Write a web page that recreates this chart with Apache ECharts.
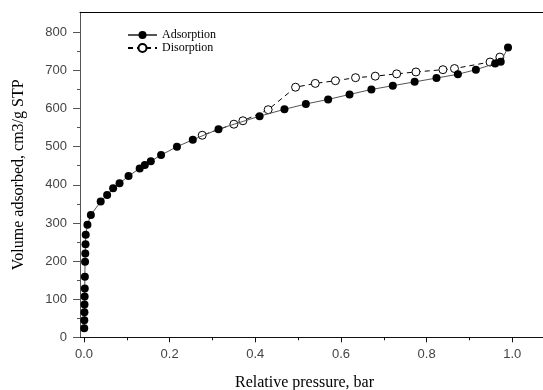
<!DOCTYPE html>
<html>
<head>
<meta charset="utf-8">
<script src="https://cdn.jsdelivr.net/npm/echarts@6/dist/echarts.min.js"></script>
<style>
html,body{margin:0;padding:0;background:#fff;}
#chart{width:543px;height:390px;}
</style>
</head>
<body>
<div id="chart"></div>
<script>
// ---- data ----
const adsX = [0.0005,0.0007,0.001,0.0012,0.0015,0.0018,0.002,0.0025,0.003,0.0035,0.004,0.008,0.016,0.039,0.054,0.068,0.083,0.104,0.130,0.142,0.156,0.180,0.217,0.254,0.314,0.410,0.468,0.518,0.570,0.620,0.671,0.721,0.772,0.823,0.873,0.915,0.960,0.973,0.990];
const adsY = [24,45,66,86,107,128,159,198,220,244,269,295,321,356,373,391,404,423,443,452,462,478,500,518,546,580,598,612,624,637,650,660,670,680,690,702,718,723,760];
const desX = [0.971,0.948,0.865,0.838,0.775,0.730,0.680,0.634,0.587,0.540,0.494,0.430,0.371,0.350,0.276];
const desY = [735,722,705,702,696,691,685,681,673,666,656,597,568,559,530];
const seriesNames = ['Adsorption','Disorption'];
const xTicks = [0, 0.2, 0.4, 0.6, 0.8, 1.0];
const xMinorTicks = [0.1, 0.3, 0.5, 0.7, 0.9];
const yTicks = [0, 100, 200, 300, 400, 500, 600, 700, 800];
const yMinorTicks = [50, 150, 250, 350, 450, 550, 650, 750];
const xTitle = 'Relative pressure, bar';
const yTitle = 'Volume adsorbed, cm3/g STP';

const X_MIN = -0.00934, X_MAX = 1.0717, Y_MIN = 0, Y_MAX = 852.5;

const pair = (xs, ys) => xs.map((x, i) => [x, ys[i]]);
const serif = '"Liberation Serif", "Times New Roman", serif';
const sans = '"Liberation Sans", Arial, sans-serif';

const chart = echarts.init(document.getElementById('chart'), null, {renderer: 'canvas'});
chart.setOption({
  animation: false,
  backgroundColor: '#fff',
  grid: {left: 80, top: 12.3, right: 0, bottom: 52.7, containLabel: false, outerBoundsMode: 'none'},
  legend: {
    data: seriesNames,
    orient: 'vertical',
    left: 122, top: 24,
    itemWidth: 29, itemHeight: 10, itemGap: 1,
    textStyle: {fontFamily: serif, fontSize: 12, color: '#000'}
  },
  xAxis: [
    {
      type: 'value', position: 'bottom', min: X_MIN, max: X_MAX,
      name: xTitle, nameLocation: 'middle', nameGap: 37,
      nameTextStyle: {fontFamily: serif, fontSize: 16, color: '#000', padding: [0, 14, 0, 0]},
      axisLine: {show: true, onZero: false, lineStyle: {color: '#111', width: 1}},
      axisTick: {show: true, inside: false, length: 5, customValues: xTicks, lineStyle: {color: '#111'}},
      axisLabel: {show: true, margin: 11, customValues: xTicks, fontFamily: sans, fontSize: 13, color: '#444',
        formatter: v => v.toFixed(1)},
      splitLine: {show: false}
    },
    {
      type: 'value', position: 'bottom', min: X_MIN, max: X_MAX,
      axisLine: {show: false, onZero: false},
      axisTick: {show: true, inside: false, length: 3, customValues: xMinorTicks, lineStyle: {color: '#111'}},
      axisLabel: {show: false},
      splitLine: {show: false}
    },
    {
      type: 'value', position: 'top', min: X_MIN, max: X_MAX,
      axisLine: {show: true, onZero: false, lineStyle: {color: '#000', width: 1}},
      axisTick: {show: false}, axisLabel: {show: false}, splitLine: {show: false}
    }
  ],
  yAxis: [
    {
      type: 'value', position: 'left', min: Y_MIN, max: Y_MAX,
      name: yTitle, nameLocation: 'middle', nameGap: 53,
      nameTextStyle: {fontFamily: serif, fontSize: 16, color: '#000'},
      axisLine: {show: true, onZero: false, lineStyle: {color: '#555', width: 1}},
      axisTick: {show: true, inside: false, length: 7, customValues: yTicks, lineStyle: {color: '#555'}},
      axisLabel: {show: true, margin: 13, customValues: yTicks, fontFamily: sans, fontSize: 13, color: '#444'},
      splitLine: {show: false}
    },
    {
      type: 'value', position: 'left', min: Y_MIN, max: Y_MAX,
      axisLine: {show: false, onZero: false},
      axisTick: {show: true, inside: false, length: 3, customValues: yMinorTicks, lineStyle: {color: '#555'}},
      axisLabel: {show: false}, splitLine: {show: false}
    }
  ],
  series: [
    {
      name: seriesNames[0], type: 'line', xAxisIndex: 0, yAxisIndex: 0,
      data: pair(adsX, adsY),
      symbol: 'circle', symbolSize: 8, showAllSymbol: true,
      itemStyle: {color: '#000', borderColor: '#000', borderWidth: 0},
      lineStyle: {color: '#555', width: 1},
      z: 3
    },
    {
      name: seriesNames[1], type: 'line', xAxisIndex: 0, yAxisIndex: 0,
      data: pair(desX, desY),
      symbol: 'circle', symbolSize: 8, showAllSymbol: true,
      itemStyle: {color: '#fff', borderColor: '#000', borderWidth: 1},
      lineStyle: {color: '#000', width: 1, type: [5, 4]},
      z: 2
    }
  ]
});
</script>
</body>
</html>
